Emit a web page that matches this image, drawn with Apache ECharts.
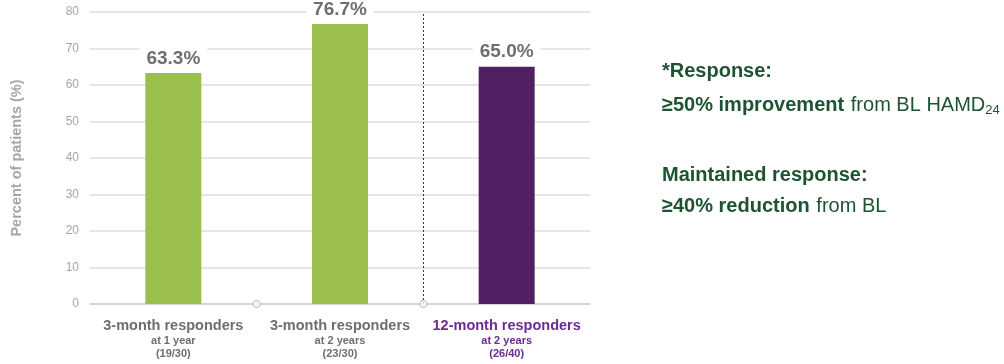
<!DOCTYPE html>
<html>
<head>
<meta charset="utf-8">
<script src="https://cdn.jsdelivr.net/npm/echarts@6/dist/echarts.min.js"></script>
<style>
  html, body { margin: 0; padding: 0; background: #fff; }
  #chart { width: 1004px; height: 364px; }
</style>
</head>
<body>
<div id="chart"></div>
<script>
// Response rates by responder group
const groupTitles = ['3-month responders', '3-month responders', '12-month responders'];
const groupTimes = ['at 1 year', 'at 2 years', 'at 2 years'];
const groupCounts = ['(19/30)', '(23/30)', '(26/40)'];
const responseRates = [63.3, 76.7, 65.0];
const barColors = ['#9bbf4f', '#9bbf4f', '#521f63'];
const yTicks = { min: 0, max: 80, interval: 10 };
// Category boundaries (on a 0..3 scale) marked with small hollow circles
const boundaries = [1, 2];
const dividerAt = 2;

const FONT = 'Liberation Sans';
const GREY = '#6e6e6e';
const PURPLE = '#6a2c91';
const GREEN = '#1d5331';

const chart = echarts.init(document.getElementById('chart'));

chart.setOption({
  animation: false,
  textStyle: { fontFamily: FONT },
  grid: { left: 90, right: 414, top: 12, bottom: 60 },
  xAxis: [
    {
      type: 'category',
      data: groupTitles.map((t, i) => i),
      axisLine: { lineStyle: { color: '#cfcfcf', width: 1.5 } },
      axisTick: { show: false },
      axisLabel: {
        margin: 13,
        interval: 0,
        formatter: (v) => {
          const i = Number(v);
          const p = i === 2 ? 'p' : 'g';
          return `{${p}1|${groupTitles[i]}}\n{${p}2|${groupTimes[i]}}\n{${p}2|${groupCounts[i]}}`;
        },
        rich: {
          g1: { fontSize: 14.5, fontWeight: 'bold', color: GREY, fontFamily: FONT, lineHeight: 17 },
          g2: { fontSize: 11, fontWeight: 'bold', color: GREY, fontFamily: FONT, lineHeight: 13 },
          p1: { fontSize: 14.5, fontWeight: 'bold', color: PURPLE, fontFamily: FONT, lineHeight: 17 },
          p2: { fontSize: 11, fontWeight: 'bold', color: PURPLE, fontFamily: FONT, lineHeight: 13 }
        }
      }
    },
    { type: 'value', min: 0, max: 3, show: false }
  ],
  yAxis: {
    type: 'value',
    min: yTicks.min,
    max: yTicks.max,
    interval: yTicks.interval,
    name: 'Percent of patients (%)',
    nameLocation: 'middle',
    nameGap: 66,
    nameRotate: 90,
    nameTextStyle: { color: '#a6a6a6', fontSize: 14.5, fontWeight: 'bold', fontFamily: FONT },
    axisLine: { show: false },
    axisTick: { show: false },
    axisLabel: { color: '#a6a6a6', fontSize: 12, margin: 11, fontFamily: FONT },
    splitLine: { lineStyle: { color: '#dcdcdc', width: 1.5 } }
  },
  series: [
    {
      type: 'bar',
      xAxisIndex: 0,
      barWidth: 56,
      data: responseRates.map((v, i) => ({ value: v, itemStyle: { color: barColors[i] } })),
      label: {
        show: true,
        position: 'top',
        distance: 4,
        formatter: (p) => p.value.toFixed(1) + '%',
        color: GREY,
        fontSize: 19,
        fontWeight: 'bold',
        fontFamily: FONT,
        backgroundColor: '#fff',
        padding: [1, 7, 1, 7]
      },
      z: 3
    },
    {
      type: 'scatter',
      xAxisIndex: 1,
      data: boundaries.map((b) => [b, 0]),
      symbol: 'circle',
      symbolSize: 7,
      clip: false,
      itemStyle: { color: '#fff', borderColor: '#c4c4c4', borderWidth: 1.5 },
      z: 5,
      silent: true,
      markLine: {
        silent: true,
        symbol: 'none',
        label: { show: false },
        lineStyle: { color: '#521f63', type: [2, 2], width: 1 },
        data: [[{ coord: [dividerAt, yTicks.min] }, { coord: [dividerAt, yTicks.max] }]]
      }
    }
  ],
  graphic: [
    {
      type: 'text', left: 662, top: 61,
      style: { text: '*Response:', fontFamily: FONT, fontSize: 20, fontWeight: 'bold', fill: GREEN }
    },
    {
      type: 'text', left: 662, top: 95,
      style: {
        text: '{b|≥50% improvement}  {n|from BL HAMD}{s|24}',
        rich: {
          b: { fontFamily: FONT, fontSize: 20, fontWeight: 'bold', fill: GREEN },
          n: { fontFamily: FONT, fontSize: 20, fill: GREEN },
          s: { fontFamily: FONT, fontSize: 13, fill: GREEN, padding: [11, 0, 0, 0] }
        }
      }
    },
    {
      type: 'text', left: 662, top: 165,
      style: { text: 'Maintained response:', fontFamily: FONT, fontSize: 20, fontWeight: 'bold', fill: GREEN }
    },
    {
      type: 'text', left: 662, top: 196,
      style: {
        text: '{b|≥40% reduction}  {n|from BL}',
        rich: {
          b: { fontFamily: FONT, fontSize: 20, fontWeight: 'bold', fill: GREEN },
          n: { fontFamily: FONT, fontSize: 20, fill: GREEN }
        }
      }
    }
  ]
});
</script>
</body>
</html>
